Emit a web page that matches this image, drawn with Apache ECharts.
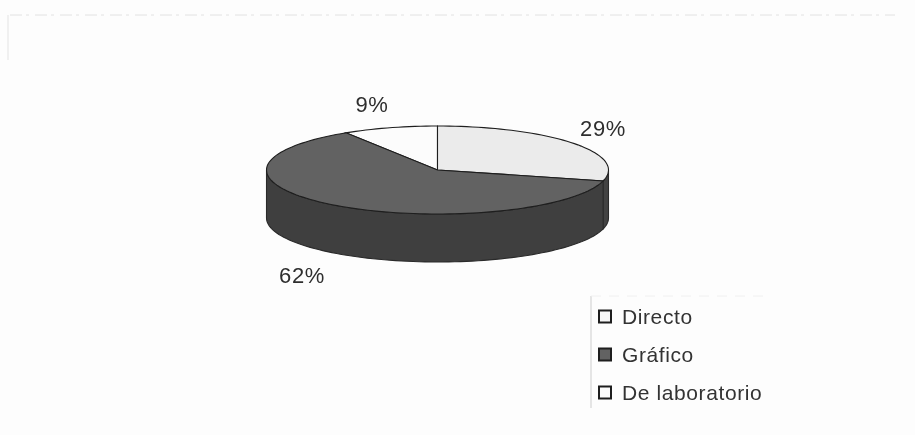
<!DOCTYPE html>
<html>
<head>
<meta charset="utf-8">
<script src="https://cdn.jsdelivr.net/npm/echarts@6/dist/echarts.min.js"></script>
<style>
html,body{margin:0;padding:0;background:#fdfdfd;}
#c{width:915px;height:435px;filter:blur(0.55px);}
#c text{letter-spacing:0.6px;}
</style>
</head>
<body>
<div id="c"></div>
<script>
const categories = ['Directo', 'Gráfico', 'De laboratorio'];
const values = [29, 62, 9];
const topColors = ['#ebebeb', '#626262', '#fcfcfc'];
const wallColors = ['#434343', '#3f3f3f', '#5a5a5a'];
const legendColors = ['#f6f6f6', '#626262', '#fcfcfc'];
const labelSpots = [[603, 128], [302, 275], [372, 104]];

const CX = 437.5, CY = 170, RX = 171, RY = 44, DEPTH = 48;
const INK = '#1e1e1e';
const total = values.reduce((a, b) => a + b, 0);

function pt(deg, dy) {
  const r = deg * Math.PI / 180;
  return [CX + RX * Math.sin(r), CY - RY * Math.cos(r) + (dy || 0)];
}
function arc(a, b, dy) {
  const out = [];
  const n = Math.max(2, Math.ceil(Math.abs(b - a) / 2));
  for (let i = 0; i <= n; i++) out.push(pt(a + (b - a) * i / n, dy));
  return out;
}
function startAngle(i) {
  let s = 0;
  for (let k = 0; k < i; k++) s += values[k];
  return s / total * 360;
}

function renderSlice(params, api) {
  const i = params.seriesIndex;
  const a = startAngle(i);
  const b = a + api.value(0) / total * 360;
  const children = [];
  const wa = Math.max(a, 90), wb = Math.min(b, 270);
  if (wb > wa) {
    children.push({
      type: 'polygon',
      z2: 1,
      shape: { points: arc(wa, wb, 0).concat(arc(wb, wa, DEPTH)) },
      style: { fill: wallColors[i], stroke: '#2a2a2a', lineWidth: 1.1 }
    });
  }
  children.push({
    type: 'polygon',
    z2: 2,
    shape: { points: [[CX, CY]].concat(arc(a, b, 0)) },
    style: { fill: topColors[i], stroke: INK, lineWidth: 1.1 }
  });
  children.push({
    type: 'text',
    z2: 3,
    style: {
      x: labelSpots[i][0], y: labelSpots[i][1],
      text: api.value(0) + '%',
      fill: '#2e2e2e', font: '22px "Liberation Sans"',
      align: 'center', verticalAlign: 'middle'
    }
  });
  return { type: 'group', children };
}

const chart = echarts.init(document.getElementById('c'), null, { renderer: 'svg' });
chart.setOption({
  backgroundColor: '#fdfdfd',
  animation: false,
  legend: {
    orient: 'vertical',
    left: 598,
    top: 306,
    icon: 'rect',
    itemWidth: 12,
    itemHeight: 12,
    itemGap: 17,
    padding: 0,
    selectedMode: false,
    data: categories,
    textStyle: {
      fontFamily: 'Liberation Sans', fontSize: 21, color: '#333',
      lineHeight: 20, padding: [0, 0, 0, 6]
    }
  },
  graphic: [
    { type: 'line', shape: { x1: 10, y1: 15, x2: 895, y2: 15 }, style: { stroke: '#e2e2e2', lineWidth: 1, lineDash: [12, 4, 3, 6] } },
    { type: 'line', shape: { x1: 8, y1: 15, x2: 8, y2: 60 }, style: { stroke: '#f0f0f0', lineWidth: 2 } },
    { type: 'line', shape: { x1: 591, y1: 296, x2: 591, y2: 408 }, style: { stroke: '#dcdcdc', lineWidth: 1.5 } },
    { type: 'line', shape: { x1: 591, y1: 296, x2: 770, y2: 296 }, style: { stroke: '#f0f0f0', lineWidth: 1, lineDash: [10, 8] } }
  ],
  series: categories.map((name, i) => ({
    type: 'custom',
    name,
    coordinateSystem: 'none',
    z: i === 1 ? 3 : (i === 0 ? 2 : 1),
    itemStyle: { color: legendColors[i], borderColor: INK, borderWidth: 1.2 },
    renderItem: renderSlice,
    data: [[values[i]]]
  }))
});
</script>
</body>
</html>
